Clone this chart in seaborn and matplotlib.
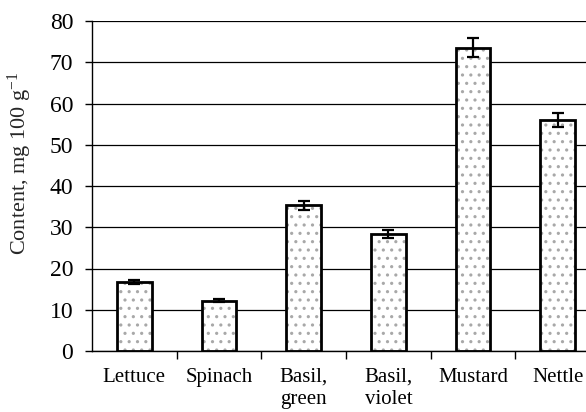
import matplotlib
matplotlib.use("Agg")
import matplotlib.pyplot as plt
import seaborn as sns
import pandas as pd

categories = ["Lettuce", "Spinach", "Basil,\ngreen", "Basil,\nviolet", "Mustard", "Nettle"]
values = [16.8, 12.2, 35.3, 28.4, 73.5, 56.0]
errors = [0.5, 0.4, 1.1, 0.9, 2.3, 1.8]
y_ticks = [0, 10, 20, 30, 40, 50, 60, 70, 80]
y_label = "Content, mg 100 g$^{\\mathregular{-1}}$"

sns.set_theme(style="white")
plt.rcParams["font.family"] = ["Liberation Serif", "DejaVu Serif"]
plt.rcParams["mathtext.default"] = "regular"
plt.rcParams["hatch.linewidth"] = 1.1

df = pd.DataFrame({"cat": categories, "val": values})

fig = plt.figure(figsize=(5.86, 4.12), dpi=100)
ax = fig.add_axes([92 / 586, 1 - 351 / 412, (600 - 92) / 586, (351 - 21) / 412])

ax.set_axisbelow(True)
ax.yaxis.grid(True, color="black", linewidth=0.9)

sns.barplot(data=df, x="cat", y="val", ax=ax, color="white", edgecolor="#a8a8a8",
            linewidth=0, hatch="..", width=0.41, saturation=1)
sns.barplot(data=df, x="cat", y="val", ax=ax, fill=False, edgecolor="black",
            linewidth=2.0, width=0.41)
ax.errorbar(x=list(range(len(categories))), y=values, yerr=errors, fmt="none",
            ecolor="black", elinewidth=1.6, capsize=4.3, capthick=1.6, zorder=5)

ax.set_xlim(-0.5, len(categories) - 0.5)
ax.set_ylim(0, 80)
ax.set_yticks(y_ticks)
ax.set_xlabel("")
ax.set_ylabel(y_label, fontsize=16)
ax.yaxis.set_label_coords(-0.114, 0.57)

for s in ["top", "right"]:
    ax.spines[s].set_visible(False)
for s in ["left", "bottom"]:
    ax.spines[s].set_visible(True)
    ax.spines[s].set_color("black")
    ax.spines[s].set_linewidth(1.0)

ax.tick_params(axis="y", which="major", left=True, length=5, width=1.0, color="black",
               labelsize=17, pad=8.5, labelcolor="black")
ax.tick_params(axis="x", which="major", bottom=False, length=0, labelsize=15,
               pad=12, labelcolor="black")
ax.set_xticks([i + 0.5 for i in range(len(categories) - 1)], minor=True)
ax.tick_params(axis="x", which="minor", bottom=True, length=6, width=1.0, color="black")
for lab in ax.get_xticklabels():
    lab.set_linespacing(1.25)
    lab.set_verticalalignment("top")

fig.savefig("out.png", dpi=100)
